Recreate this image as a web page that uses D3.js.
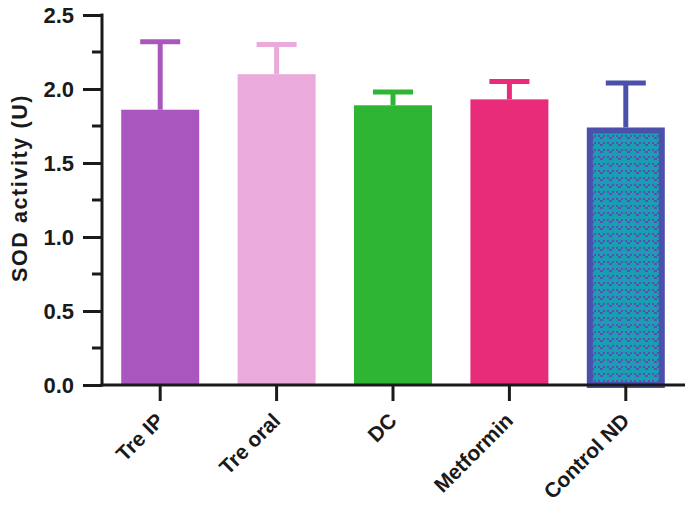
<!DOCTYPE html>
<html>
<head>
<meta charset="utf-8">
<script src="https://cdn.jsdelivr.net/npm/d3@7"></script>
<style>
  body { margin: 0; background: #fff; }
  text { font-family: "Liberation Sans", Arial, sans-serif; font-weight: bold; }
</style>
</head>
<body>
<div id="chart"></div>
<script>
// data
var groups = ["Tre IP", "Tre oral", "DC", "Metformin", "Control ND"];
var means = [1.86, 2.10, 1.89, 1.93, 1.74];
var errors = [0.46, 0.20, 0.09, 0.12, 0.30];
var fills = ["#a957bf", "#eaaadb", "#2eb533", "#e92c79", "#1b9db2"];
var strokes = ["#a957bf", "#eaaadb", "#2eb533", "#e92c79", "#4b50ab"];
var yTicks = [0, 0.5, 1.0, 1.5, 2.0, 2.5];
var minorTicks = [0.25, 0.75, 1.25, 1.75, 2.25];

var svgWidth = 685;
var svgHeight = 505;
var margin = { top: 15, right: 1, bottom: 120, left: 102 };
var width = svgWidth - margin.left - margin.right;
var height = svgHeight - margin.top - margin.bottom;

var svg = d3.select("#chart")
  .append("svg")
  .attr("width", svgWidth)
  .attr("height", svgHeight);

// little "v" pattern for the control bar
var defs = svg.append("defs");
var pat = defs.append("pattern")
  .attr("id", "vpat")
  .attr("patternUnits", "userSpaceOnUse")
  .attr("width", 9)
  .attr("height", 7);
pat.append("rect").attr("width", 9).attr("height", 7).attr("fill", "#1b9db2");
pat.append("path")
  .attr("d", "M1,1h2v2h-2z M6,1h2v2h-2z M3,3h3v2h-3z")
  .attr("fill", "#5a4fb5");

var chartGroup = svg.append("g")
  .attr("transform", `translate(${margin.left}, ${margin.top})`);

var x = d3.scaleBand()
  .domain(groups)
  .range([0, width])
  .paddingInner(0.33)
  .paddingOuter(0.165);

var y = d3.scaleLinear()
  .domain([0, 2.5])
  .range([height, 0]);

var rows = groups.map((g, i) => ({ name: g, mean: means[i], err: errors[i], fill: fills[i], stroke: strokes[i] }));

// error bars (upper only, drawn under the bars)
var capW = 40;
chartGroup.selectAll(".err")
  .data(rows)
  .enter()
  .append("line")
  .attr("x1", d => x(d.name) + x.bandwidth() / 2)
  .attr("x2", d => x(d.name) + x.bandwidth() / 2)
  .attr("y1", d => y(d.mean))
  .attr("y2", d => y(d.mean + d.err))
  .attr("stroke", d => d.stroke)
  .attr("stroke-width", 5);

chartGroup.selectAll(".cap")
  .data(rows)
  .enter()
  .append("line")
  .attr("x1", d => x(d.name) + x.bandwidth() / 2 - capW / 2)
  .attr("x2", d => x(d.name) + x.bandwidth() / 2 + capW / 2)
  .attr("y1", d => y(d.mean + d.err))
  .attr("y2", d => y(d.mean + d.err))
  .attr("stroke", d => d.stroke)
  .attr("stroke-width", 5);

// bars (the control bar gets a pattern and a thick border)
var bw = 6;
chartGroup.selectAll(".bar")
  .data(rows)
  .enter()
  .append("rect")
  .attr("x", (d, i) => x(d.name) + (i === 4 ? bw / 2 : 0))
  .attr("y", (d, i) => y(d.mean) + (i === 4 ? bw / 2 : 0))
  .attr("width", (d, i) => x.bandwidth() - (i === 4 ? bw : 0))
  .attr("height", (d, i) => height - y(d.mean) - (i === 4 ? bw / 2 : 0))
  .attr("fill", (d, i) => i === 4 ? "url(#vpat)" : d.fill)
  .attr("stroke", (d, i) => i === 4 ? d.stroke : "none")
  .attr("stroke-width", bw);

// y axis
var leftAxis = d3.axisLeft(y)
  .tickValues(yTicks)
  .tickFormat(d3.format(".1f"))
  .tickSize(19)
  .tickPadding(9);
var yAxis = chartGroup.append("g").call(leftAxis);
yAxis.select(".domain").attr("stroke", "#1a1a1a").attr("stroke-width", 3)
  .attr("d", `M0,${height + 1.5}V${y(2.5) - 1.5}`);
yAxis.selectAll(".tick line").attr("stroke", "#1a1a1a").attr("stroke-width", 3);
yAxis.selectAll(".tick text")
  .attr("fill", "#1a1a1a")
  .style("font-size", "22px")
  .style("font-weight", "bold")
  .style("font-family", "'Liberation Sans', Arial, sans-serif");

// minor ticks
chartGroup.selectAll(".minor")
  .data(minorTicks)
  .enter()
  .append("line")
  .attr("x1", -10)
  .attr("x2", 0)
  .attr("y1", d => y(d))
  .attr("y2", d => y(d))
  .attr("stroke", "#1a1a1a")
  .attr("stroke-width", 3);

// x axis
var bottomAxis = d3.axisBottom(x).tickSize(16).tickFormat("");
var xAxis = chartGroup.append("g")
  .attr("transform", `translate(0, ${height})`)
  .call(bottomAxis);
xAxis.select(".domain").attr("stroke", "#1a1a1a").attr("stroke-width", 3)
  .attr("d", `M-1.5,0H${width + 1}`);
xAxis.selectAll(".tick line").attr("stroke", "#1a1a1a").attr("stroke-width", 3);

// rotated category labels
chartGroup.selectAll(".xlab")
  .data(groups)
  .enter()
  .append("text")
  .attr("transform", d => `translate(${x(d) + x.bandwidth() / 2 + 5}, ${height + 37}) rotate(-45)`)
  .attr("text-anchor", "end")
  .style("font-size", "21px")
  .attr("fill", "#1a1a1a")
  .text(d => d);

// y label
svg.append("text")
  .attr("transform", `translate(27, 188) rotate(-90)`)
  .attr("text-anchor", "middle")
  .style("font-size", "21.5px")
  .style("letter-spacing", "1.6px")
  .attr("fill", "#1a1a1a")
  .text("SOD activity (U)");
</script>
</body>
</html>
